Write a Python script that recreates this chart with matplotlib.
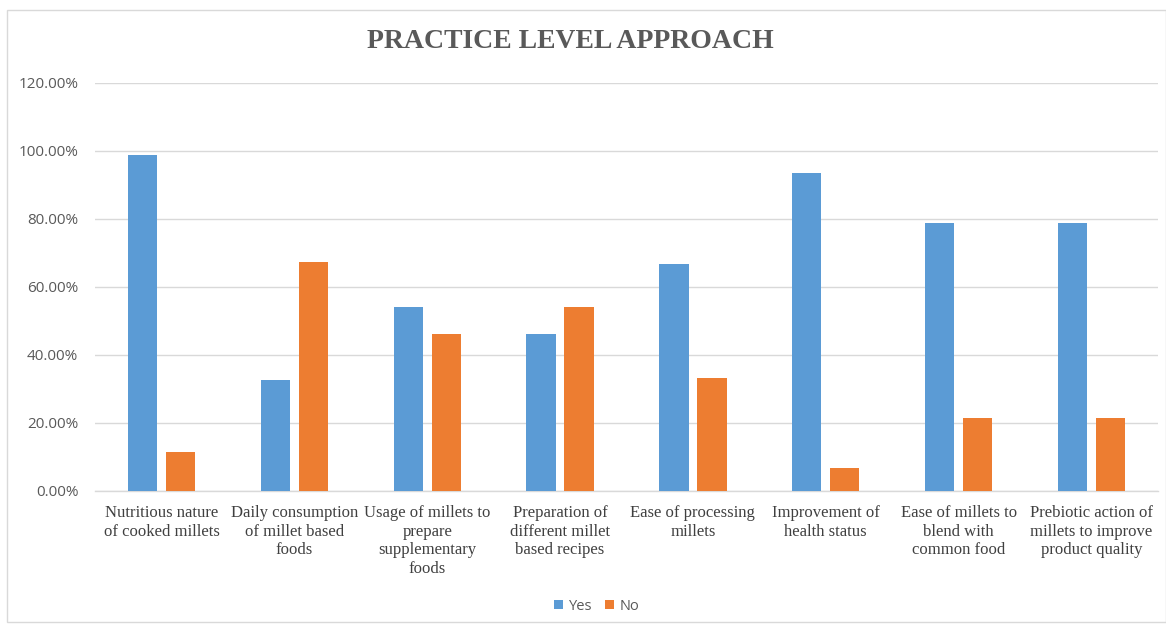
import numpy as np
import matplotlib.pyplot as plt
from matplotlib.patches import Rectangle
from matplotlib.ticker import FuncFormatter

categories = [
    "Nutritious nature\nof cooked millets",
    "Daily consumption\nof millet based\nfoods",
    "Usage of millets to\nprepare\nsupplementary\nfoods",
    "Preparation of\ndifferent millet\nbased recipes",
    "Ease of processing\nmillets",
    "Improvement of\nhealth status",
    "Ease of millets to\nblend with\ncommon food",
    "Prebiotic action of\nmillets to improve\nproduct quality",
]
yes = [0.9867, 0.3267, 0.54, 0.46, 0.6667, 0.9333, 0.7867, 0.7867]
no = [0.1133, 0.6733, 0.46, 0.54, 0.3333, 0.0667, 0.2133, 0.2133]
yticks = [0, 0.2, 0.4, 0.6, 0.8, 1.0, 1.2]

W, H = 1166, 625
fig = plt.figure(figsize=(W / 100, H / 100), dpi=100)
ax = fig.add_axes([95 / W, 134 / H, 1063 / W, 408.5 / H])

# outer chart frame
fig.patches.append(Rectangle((7 / W, 3 / H), 1 - 7 / W, 1 - 13 / H,
                             transform=fig.transFigure, fill=False,
                             edgecolor="#d9d9d9", linewidth=1))

x = np.arange(len(categories))
ax.bar(x - 0.143, yes, width=0.22, color="#5B9BD5", label="Yes", zorder=3)
ax.bar(x + 0.143, no, width=0.22, color="#ED7D31", label="No", zorder=3)

ax.set_xlim(-0.5, len(categories) - 0.5)
ax.set_ylim(0, 1.2)
ax.set_yticks(yticks)
ax.yaxis.set_major_formatter(FuncFormatter(lambda v, p: f"{v * 100:.2f}%"))
ax.grid(axis="y", color="#d9d9d9", linewidth=1, zorder=0)
for side in ["top", "right", "left"]:
    ax.spines[side].set_visible(False)
ax.spines["bottom"].set_color("#d9d9d9")
ax.spines["bottom"].set_linewidth(1)
ax.tick_params(axis="both", length=0)
ax.tick_params(axis="y", labelsize=11, labelcolor="#595959", pad=12)
for lbl in ax.get_yticklabels():
    lbl.set_fontfamily("Open Sans")

ax.set_xticks(x)
ax.set_xticklabels(categories, family="Liberation Serif", fontsize=12,
                   color="#404040", linespacing=1.22)
ax.tick_params(axis="x", pad=10)

fig.text(570 / W, 1 - 42 / H, "PRACTICE LEVEL APPROACH", ha="center",
         va="center", family="Liberation Serif", fontweight="bold",
         fontsize=20, color="#595959")

fig.legend(loc="center", bbox_to_anchor=(597 / W, 1 - 606 / H), ncol=2,
           frameon=False, handlelength=0.6, handleheight=0.6,
           handletextpad=0.4, columnspacing=0.9,
           prop={"family": "Open Sans", "size": 10.5}, labelcolor="#595959")

fig.savefig("out.png", dpi=100)
